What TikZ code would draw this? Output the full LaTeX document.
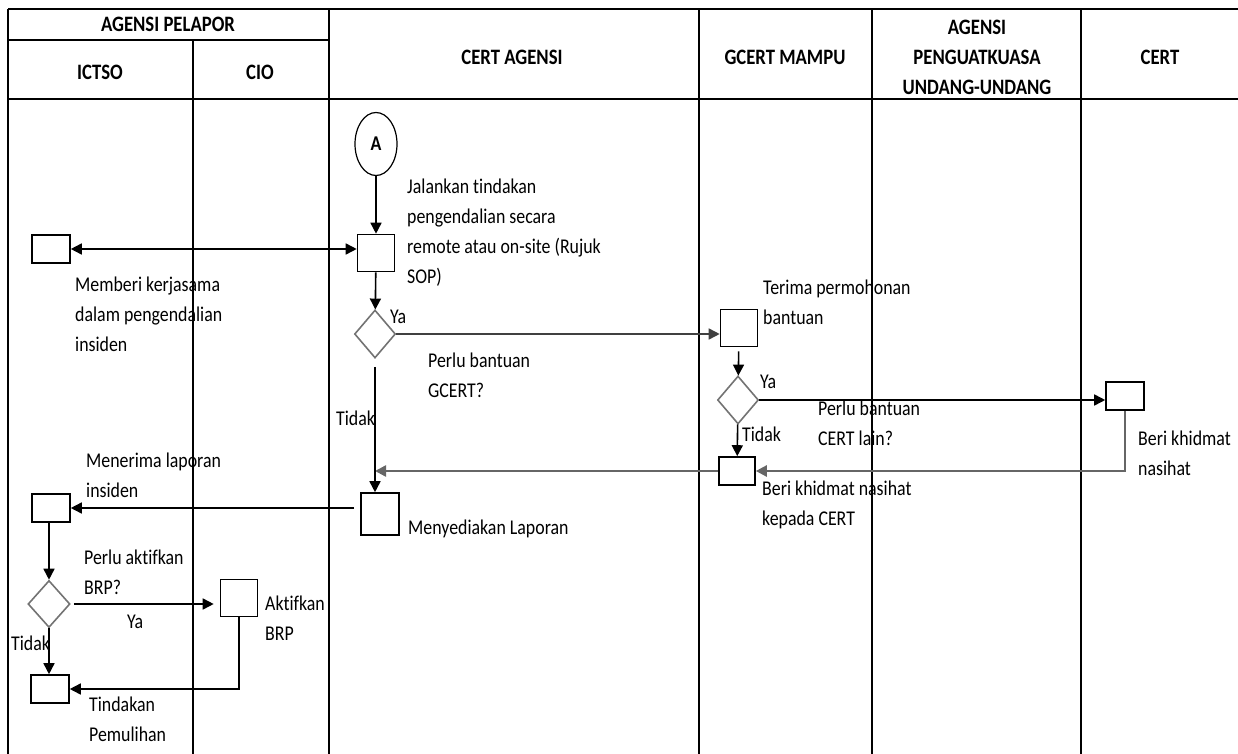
\documentclass[tikz,border=0pt]{standalone}
\usepackage{fontspec}
\setmainfont{Carlito}[FakeStretch=0.85,Ligatures=NoCommon]
\usetikzlibrary{arrows.meta,shapes.geometric}

\begin{document}
\begin{tikzpicture}[x=1pt,y=-1pt,
    lane/.style={line width=1.4pt},
    box/.style={draw,line width=1.6pt,minimum width=38pt,minimum height=28pt,inner sep=0pt},
    sqbox/.style={box,minimum width=37pt,minimum height=37pt},
    decide/.style={draw=black!55,line width=1.6pt,diamond,minimum width=41pt,minimum height=48pt,inner sep=0pt},
    lbl/.style={anchor=north west,inner sep=0pt,align=left,font=\fontsize{21}{30}\selectfont},
    head/.style={align=center,font=\bfseries\fontsize{22}{30}\selectfont},
    flow/.style={line width=1.6pt,-{Triangle[width=11pt,length=11pt]}},
    back/.style={flow,draw=black!60,line width=2.4pt}]
    \useasboundingbox (0,0) rectangle (1238,754);

    \draw[lane] (8,9) -- (1238,9);
    \draw[lane] (8,9) -- (8,754);
    \draw[lane] (8,40) -- (329,40);
    \draw[lane] (8,99) -- (1238,99);
    \draw[lane] (193,40) -- (193,754);
    \foreach \lx in {329,699,872,1081}
        \draw[lane] (\lx,9) -- (\lx,754);

    \node[head] (hPelapor) at (168,24) {AGENSI PELAPOR};
    \node[head] (hIctso) at (100,72) {ICTSO};
    \node[head] (hCio) at (260,72) {CIO};
    \node[head] (hCertAg) at (512,57) {CERT AGENSI};
    \node[head] (hGcert) at (785,57) {GCERT MAMPU};
    \node[head] (hPenguat) at (977,57) {AGENSI\\PENGUATKUASA\\UNDANG-UNDANG};
    \node[head] (hCert) at (1160,57) {CERT};

    \node[draw,ellipse,line width=1.2pt,minimum width=42pt,minimum height=63pt,inner sep=0pt,
        font=\bfseries\fontsize{21}{30}\selectfont] (A) at (376,144) {A};
    \node[sqbox] (jalan) at (376,253) {};
    \node[box] (kerja) at (51,249) {};
    \node[decide] (perluG) at (375,334) {};
    \node[sqbox] (terima) at (739,328) {};
    \node[decide] (perluC) at (738,400) {};
    \node[box] (khidC) at (1125,396) {};
    \node[box,minimum width=36pt] (khidG) at (737,471) {};
    \node[sqbox,minimum width=38pt,minimum height=42pt] (sedia) at (380,514) {};
    \node[box] (terimaL) at (51,508) {};
    \node[decide,minimum width=42pt,minimum height=47pt] (perluB) at (49,604) {};
    \node[sqbox] (aktif) at (239,598) {};
    \node[box] (pulih) at (50,689) {};

    \draw[flow] (A) -- (jalan);
    \draw[flow,{Triangle[width=11pt,length=11pt]}-{Triangle[width=11pt,length=11pt]}] (kerja.east) -- (kerja.east -| jalan.west);
    \draw[flow] (jalan) -- (perluG);
    \draw[flow,draw=black!75] (perluG.east) -- (perluG.east -| terima.west);
    \draw[flow,shorten <=4pt] (terima) -- (perluC);
    \draw[flow] (perluC.east) -- (perluC.east -| khidC.west);
    \draw[flow] (perluC) -- (khidG);
    \draw[back] (khidC.south) |- (khidG.east);
    \draw[back] (khidG.west) -- (khidG.west -| perluG.south);
    \draw[flow,shorten <=8pt] (perluG.south) -- (perluG.south |- sedia.north);
    \draw[flow,shorten <=6pt] (terimaL.east -| sedia.west) -- (terimaL.east);
    \draw[flow] (perluB.north |- terimaL.south) -- (perluB.north);
    \draw[flow,shorten <=3pt,shorten >=6pt] (perluB.east) -- (perluB.east -| aktif.west);
    \draw[flow] (perluB) -- (perluB.south |- pulih.north);
    \draw[flow] (aktif.south) |- (pulih.east);

    \node[lbl] (tJalan) at (407,179) {Jalankan tindakan\\pengendalian secara\\remote atau on-site (Rujuk\\SOP)};
    \node[lbl] (tKerja) at (75,277) {Memberi kerjasama\\dalam pengendalian\\insiden};
    \node[lbl] (tPerluG) at (428,353) {Perlu bantuan\\GCERT?};
    \node[lbl] (tYaG) at (390,310) {Ya};
    \node[lbl] (tTidakG) at (336,411) {Tidak};
    \node[lbl] (tTerima) at (763,280) {Terima permohonan\\bantuan};
    \node[lbl] (tYaC) at (760,375) {Ya};
    \node[lbl] (tPerluC) at (818,401) {Perlu bantuan\\CERT lain?};
    \node[lbl] (tTidakC) at (742,427) {Tidak};
    \node[lbl] (tKhidG) at (762,481) {Beri khidmat nasihat\\kepada CERT};
    \node[lbl] (tKhidC) at (1138,431) {Beri khidmat\\nasihat};
    \node[lbl] (tSedia) at (408,520) {Menyediakan Laporan};
    \node[lbl] (tTerimaL) at (86,453) {Menerima laporan\\insiden};
    \node[lbl] (tPerluB) at (84,550) {Perlu aktifkan\\BRP?};
    \node[lbl] (tYaB) at (127,615) {Ya};
    \node[lbl] (tTidakB) at (11,636) {Tidak};
    \node[lbl] (tAktif) at (265,596) {Aktifkan\\BRP};
    \node[lbl] (tPulih) at (89,697) {Tindakan\\Pemulihan};
\end{tikzpicture}
\end{document}
